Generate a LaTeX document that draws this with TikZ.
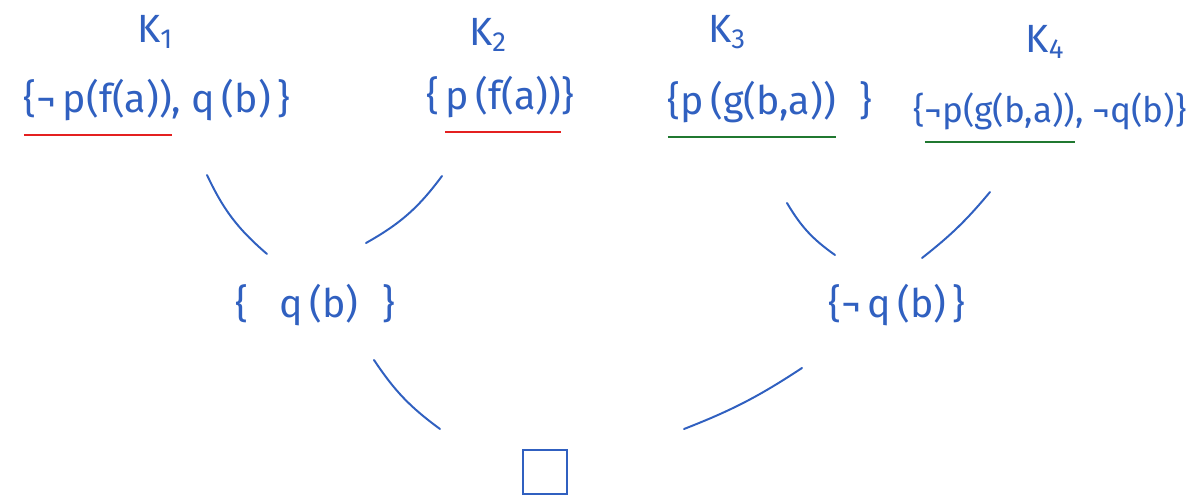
\documentclass[tikz,border=0pt]{standalone}
\usepackage{fontspec}
\setmainfont{Fira Sans}
\usetikzlibrary{positioning}
\definecolor{ink}{RGB}{48,96,192}
\definecolor{inkred}{RGB}{228,32,32}
\definecolor{inkgreen}{RGB}{32,120,48}
\tikzstyle{clause}=[text=ink,font=\fontsize{28}{32}\selectfont,inner sep=2pt]
\tikzstyle{link}=[draw=ink,line width=1.4pt,line cap=round]
\newcommand{\uln}[2]{\setbox0\hbox{#2}\rlap{\color{#1}\rule[-0.6em]{\wd0}{1.4pt}}\box0}

\begin{document}
\begin{tikzpicture}[x=0.025cm,y=-0.025cm]
    \useasboundingbox (0,0) rectangle (1189,503);
    % start clauses
    \node[clause] (K1) at (155,32) {K\textsubscript{1}};
    \node[clause] (K2) at (488,35) {K\textsubscript{2}};
    \node[clause] (K3) at (727,32) {K\textsubscript{3}};
    \node[clause] (K4) at (1045,42) {K\textsubscript{4}};
    \node[clause] (C1) at (157,108) {\uln{inkred}{\{¬\,p(f(a))}, q\,(b)\,\}};
    \node[clause] (C2) at (500,105) {\{\,\uln{inkred}{p\,(f(a))}\}};
    \node[clause] (C3) at (770,110) {\uln{inkgreen}{\{p\,(g(b,a))}\hspace{0.6em}\}};
    \node[clause,font=\fontsize{25}{30}\selectfont] (C4) at (1050,118) {\{\uln{inkgreen}{¬p(g(b,a))}, ¬q(b)\}};
    % resolvents
    \node[clause] (R1) at (315,305) {\{\hspace{0.8em}q\,(b)\hspace{0.6em}\}};
    \node[clause] (R2) at (897,305) {\{¬\,q\,(b)\,\}};
    \node[draw=ink,line width=1.4pt,minimum width=1.1cm,minimum height=1.1cm] (E) at (545,472) {};
    \draw[link] ([shift={(50,67)}]C1.center) to[bend right=12] ([shift={(-48,-51)}]R1.center);
    \draw[link] ([shift={(-58,71)}]C2.center) to[bend left=12] ([shift={(51,-62)}]R1.center);
    \draw[link] ([shift={(17,93)}]C3.center) to[bend right=12] ([shift={(-62,-50)}]R2.center);
    \draw[link] ([shift={(-60,74)}]C4.center) to[bend left=6] ([shift={(25,-47)}]R2.center);
    \draw[link] ([shift={(59,55)}]R1.center) to[bend right=10] ([shift={(-105,-43)}]E.center);
    \draw[link] ([shift={(-95,63)}]R2.center) to[bend left=6] ([shift={(139,-43)}]E.center);
\end{tikzpicture}
\end{document}
